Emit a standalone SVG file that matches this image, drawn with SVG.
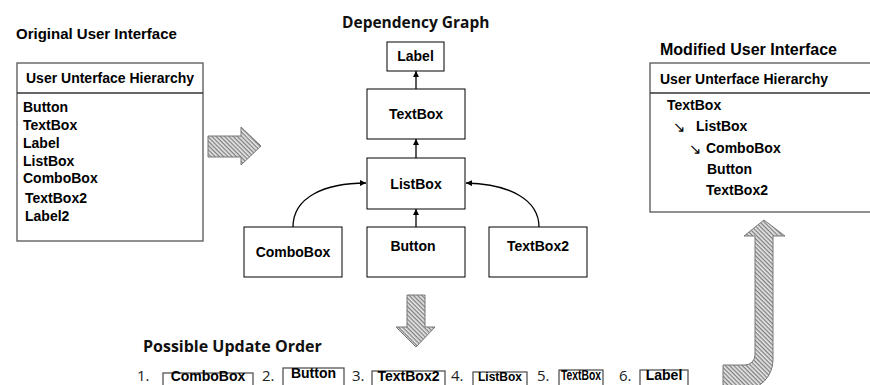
<svg xmlns="http://www.w3.org/2000/svg" width="870" height="385" viewBox="0 0 870 385">
<style>
.b{font-family:"Liberation Sans",Arial,sans-serif;font-weight:bold;font-size:14px;fill:#000}
.t{font-family:"Open Sans","Noto Sans",sans-serif;font-weight:bold;fill:#111}
.n{font-family:"Open Sans","Noto Sans",sans-serif;font-size:15px;fill:#222}
.ar{font-family:"DejaVu Sans",sans-serif;font-size:15px;fill:#000}
.box{fill:#fff;stroke:#000;stroke-width:1}
.pbox{fill:#fff;stroke:#555;stroke-width:1.3}
.hatch{fill:url(#h);stroke:#777;stroke-width:1}
.edge{fill:none;stroke:#000;stroke-width:1.3;marker-end:url(#ah)}
</style>
<defs>
<pattern id="h" patternUnits="userSpaceOnUse" width="3" height="3" patternTransform="rotate(45)">
<rect width="3" height="3" fill="#e8e8e8"/>
<line x1="0" y1="0.7" x2="3" y2="0.7" stroke="#6a6a6a" stroke-width="1.1"/>
</pattern>
<marker id="ah" viewBox="0 0 10 10" refX="10" refY="5" markerWidth="6" markerHeight="6" orient="auto" markerUnits="userSpaceOnUse">
<path d="M0,0 L10,5 L0,10 z" fill="#000"/>
</marker>
</defs>
<rect width="870" height="385" fill="#fff"/>

<g id="original-ui">
<text class="b" x="16" y="39" style="font-size:15px">Original User Interface</text>
<rect class="pbox" x="17" y="63" width="186" height="178"/>
<line x1="17" y1="93" x2="203" y2="93" stroke="#333" stroke-width="1.3"/>
<text class="b" x="26" y="83">User Unterface Hierarchy</text>
<text class="b" x="23" y="112">Button</text>
<text class="b" x="23" y="130">TextBox</text>
<text class="b" x="23" y="148">Label</text>
<text class="b" x="23" y="166">ListBox</text>
<text class="b" x="23" y="183">ComboBox</text>
<text class="b" x="25" y="203">TextBox2</text>
<text class="b" x="25" y="221">Label2</text>
</g>

<g id="arrow-right">
<path class="hatch" d="M208,136 H241 V127 L261,146 L241,165 V157 H208 Z"/>
</g>

<text class="t" x="342" y="28" style="font-size:15.5px">Dependency Graph</text>

<g id="node-label"><rect class="box" x="387" y="42" width="57" height="29"/><text class="b" x="415.5" y="61" text-anchor="middle">Label</text></g>
<g id="node-textbox"><rect class="box" x="367" y="89" width="98" height="50"/><text class="b" x="416" y="119" text-anchor="middle">TextBox</text></g>
<g id="node-listbox"><rect class="box" x="367" y="158" width="98" height="51"/><text class="b" x="416" y="189" text-anchor="middle">ListBox</text></g>
<g id="node-combobox"><rect class="box" x="244" y="227" width="98" height="50"/><text class="b" x="293" y="257" text-anchor="middle">ComboBox</text></g>
<g id="node-button"><rect class="box" x="367" y="227" width="98" height="50"/><text class="b" x="413" y="251" text-anchor="middle">Button</text></g>
<g id="node-textbox2"><rect class="box" x="489" y="227" width="98" height="50"/><text class="b" x="538" y="251" text-anchor="middle">TextBox2</text></g>

<g id="connectors">
<line class="edge" x1="416" y1="89" x2="416" y2="71"/>
<line class="edge" x1="416" y1="158" x2="416" y2="139"/>
<line class="edge" x1="416" y1="227" x2="416" y2="209"/>
<path class="edge" d="M293,227 C293,197 325,183 366,183"/>
<path class="edge" d="M539,227 C539,200 510,184 466,183"/>
</g>

<g id="modified-ui">
<text class="b" x="660" y="55" style="font-size:16px">Modified User Interface</text>
<rect class="pbox" x="650" y="63" width="226" height="149"/>
<line x1="650" y1="93" x2="870" y2="93" stroke="#333" stroke-width="1.3"/>
<text class="b" x="660" y="84">User Unterface Hierarchy</text>
<text class="b" x="667" y="110">TextBox</text>
<text class="ar" x="673" y="132">↘</text>
<text class="b" x="696" y="131">ListBox</text>
<text class="ar" x="689" y="154">↘</text>
<text class="b" x="706" y="153">ComboBox</text>
<text class="b" x="707" y="174">Button</text>
<text class="b" x="706" y="195">TextBox2</text>
</g>

<g id="arrow-down">
<path class="hatch" d="M407,295 H425 V327 H435 L416,347 L396,327 H407 Z"/>
</g>

<g id="arrow-up">
<path class="hatch" d="M723,365 H745 A10,10 0 0 0 755,355 V236 H744 L764,220 L785,236 H773 V360 A30,30 0 0 1 743,390 H723 Z"/>
</g>

<g id="update-order">
<text class="t" x="143" y="352" style="font-size:16px">Possible Update Order</text>
<text class="n" x="137" y="381">1.</text>
<rect class="pbox" x="163" y="373" width="90" height="20"/>
<text class="b" x="208" y="381" text-anchor="middle">ComboBox</text>
<text class="n" x="262" y="381">2.</text>
<rect class="pbox" x="283" y="368" width="61" height="25"/>
<text class="b" x="313.5" y="378" text-anchor="middle">Button</text>
<text class="n" x="352" y="381">3.</text>
<rect class="pbox" x="372" y="371" width="73" height="22"/>
<text class="b" x="408.5" y="381" text-anchor="middle">TextBox2</text>
<text class="n" x="451" y="381">4.</text>
<rect class="pbox" x="473" y="372" width="54" height="21"/>
<text class="b" x="500" y="381" text-anchor="middle" style="font-size:12px">ListBox</text>
<text class="n" x="537" y="381">5.</text>
<rect class="pbox" x="559" y="370" width="44" height="23"/>
<text class="b" x="561" y="380" textLength="40" lengthAdjust="spacingAndGlyphs">TextBox</text>
<text class="n" x="619" y="381">6.</text>
<rect class="pbox" x="640" y="370" width="48" height="23"/>
<text class="b" x="664" y="380" text-anchor="middle">Label</text>
</g>
</svg>
